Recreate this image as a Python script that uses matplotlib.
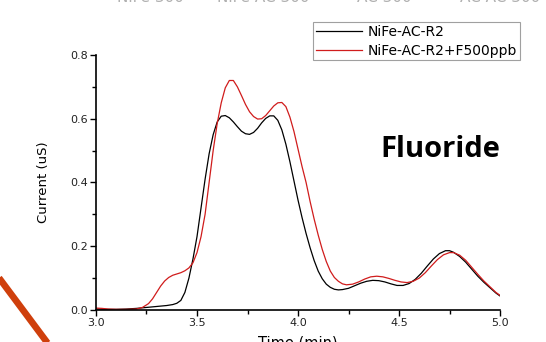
import numpy as np
import matplotlib.pyplot as plt
from matplotlib.lines import Line2D
from matplotlib.ticker import MultipleLocator

plt.rcParams['font.family'] = ['DejaVu Sans']

# Chromatogram traces (time in min, current in uS)
t_base = [3.00, 3.05, 3.10, 3.15, 3.20, 3.25, 3.30, 3.35, 3.38, 3.40, 3.42,
          3.44, 3.46, 3.48, 3.50, 3.52, 3.54, 3.56, 3.58, 3.60, 3.62, 3.64,
          3.66, 3.68, 3.70, 3.72, 3.74, 3.76, 3.78, 3.80, 3.82, 3.84, 3.86,
          3.88, 3.90, 3.92, 3.94, 3.96, 3.98, 4.00, 4.02, 4.04, 4.06, 4.08,
          4.10, 4.12, 4.14, 4.16, 4.18, 4.20, 4.22, 4.25, 4.28, 4.31, 4.34,
          4.37, 4.40, 4.43, 4.46, 4.49, 4.52, 4.55, 4.58, 4.61, 4.64, 4.67,
          4.70, 4.73, 4.75, 4.77, 4.80, 4.83, 4.86, 4.89, 4.92, 4.95, 4.98,
          5.00]
i_base = [0.003, 0.002, 0.002, 0.003, 0.005, 0.008, 0.011, 0.014, 0.017, 0.021,
          0.030, 0.055, 0.100, 0.160, 0.230, 0.320, 0.410, 0.490, 0.550, 0.590,
          0.608, 0.610, 0.603, 0.590, 0.575, 0.561, 0.553, 0.551, 0.557, 0.570,
          0.587, 0.601, 0.609, 0.609, 0.595, 0.565, 0.520, 0.465, 0.405, 0.345,
          0.290, 0.240, 0.195, 0.155, 0.122, 0.098, 0.081, 0.071, 0.065, 0.063,
          0.064, 0.068, 0.076, 0.084, 0.090, 0.093, 0.092, 0.088, 0.082, 0.077,
          0.077, 0.083, 0.096, 0.115, 0.138, 0.160, 0.177, 0.186, 0.186, 0.181,
          0.168, 0.150, 0.128, 0.106, 0.087, 0.070, 0.053, 0.044]

t_f500 = [3.00, 3.03, 3.06, 3.10, 3.15, 3.20, 3.23, 3.26, 3.28, 3.30, 3.32,
          3.34, 3.36, 3.38, 3.40, 3.42, 3.44, 3.46, 3.48, 3.50, 3.52, 3.54,
          3.56, 3.58, 3.60, 3.62, 3.64, 3.66, 3.68, 3.70, 3.72, 3.74, 3.76,
          3.78, 3.80, 3.82, 3.84, 3.86, 3.88, 3.90, 3.92, 3.94, 3.96, 3.98,
          4.00, 4.02, 4.04, 4.06, 4.08, 4.10, 4.12, 4.14, 4.16, 4.18, 4.20,
          4.22, 4.24, 4.27, 4.30, 4.33, 4.36, 4.39, 4.42, 4.45, 4.48, 4.51,
          4.54, 4.57, 4.60, 4.63, 4.66, 4.69, 4.72, 4.75, 4.77, 4.80, 4.83,
          4.86, 4.89, 4.92, 4.95, 4.98, 5.00]
i_f500 = [0.006, 0.005, 0.003, 0.002, 0.002, 0.003, 0.008, 0.020, 0.035, 0.055,
          0.075, 0.091, 0.102, 0.109, 0.113, 0.117, 0.123, 0.132, 0.148, 0.180,
          0.230, 0.300, 0.400, 0.500, 0.585, 0.650, 0.697, 0.720, 0.720, 0.700,
          0.673, 0.645, 0.622, 0.607, 0.599, 0.600, 0.610, 0.625, 0.640, 0.650,
          0.651, 0.638, 0.605, 0.560, 0.505, 0.450, 0.400, 0.340, 0.285, 0.235,
          0.190, 0.152, 0.122, 0.102, 0.090, 0.082, 0.079, 0.081, 0.088, 0.097,
          0.104, 0.106, 0.104, 0.099, 0.093, 0.088, 0.086, 0.090, 0.100, 0.117,
          0.138, 0.158, 0.173, 0.180, 0.180, 0.172, 0.156, 0.134, 0.112, 0.091,
          0.073, 0.055, 0.046]

labels = ['NiFe-AC-R2', 'NiFe-AC-R2+F500ppb']
header = ['NiFe 300', 'NiFe AC 300', 'AC 300', 'AC AC 300']
header_x = [117, 217, 357, 460]

fig = plt.figure(figsize=(5.46, 3.42), dpi=100)
ax = fig.add_axes([0.1758, 0.0936, 0.74, 0.7456])

ax.plot(t_base, i_base, color='black', lw=0.9, label=labels[0])
ax.plot(t_f500, i_f500, color='#d01c1c', lw=0.9, label=labels[1])

ax.set_xlim(3.0, 5.0)
ax.set_ylim(0.0, 0.8)
ax.xaxis.set_major_locator(MultipleLocator(0.5))
ax.xaxis.set_minor_locator(MultipleLocator(0.25))
ax.yaxis.set_major_locator(MultipleLocator(0.2))
ax.yaxis.set_minor_locator(MultipleLocator(0.1))
ax.set_xticks([3.0, 3.5, 4.0, 4.5, 5.0])
ax.set_xticklabels(['3.0', '3.5', '4.0', '4.5', '5.0'])
ax.set_yticks([0.0, 0.2, 0.4, 0.6, 0.8])
ax.set_yticklabels(['0.0', '0.2', '0.4', '0.6', '0.8'])

for side in ('top', 'right'):
    ax.spines[side].set_visible(False)
for side in ('left', 'bottom'):
    ax.spines[side].set_linewidth(1.2)
ax.tick_params(which='major', length=4, width=1, labelsize=8, direction='out',
               pad=2, labelcolor='#222222')
ax.tick_params(which='minor', length=3, width=1, direction='out')

ax.set_xlabel('Time (min)', fontsize=10.5, labelpad=5)
ax.set_ylabel('Current (uS)', fontsize=9.5, labelpad=14)

leg = ax.legend(loc='upper right', bbox_to_anchor=(0.952, 0.936),
                bbox_transform=fig.transFigure, fontsize=10, frameon=True,
                fancybox=False, borderaxespad=0, handlelength=3.3,
                handletextpad=0.4, borderpad=0.2, labelspacing=0.35)
leg.get_frame().set_edgecolor('#888888')
leg.get_frame().set_linewidth(0.8)

ax.text(4.406, 0.479, 'Fluoride', fontsize=21, fontweight='bold',
        family='Open Sans', ha='left', va='baseline')

# clipped caption row along the top edge
for s, x in zip(header, header_x):
    fig.text(x / 546, 1 - 2.5 / 342, s, fontsize=11, color='#b0b0b0',
             ha='left', va='baseline')

# orange stroke in the lower-left corner
fig.add_artist(Line2D([-0.01, 0.095], [0.205, -0.02], transform=fig.transFigure,
                      color='#cf3f0c', lw=4.8, solid_capstyle='butt'))

fig.savefig('out.png', dpi=100)
